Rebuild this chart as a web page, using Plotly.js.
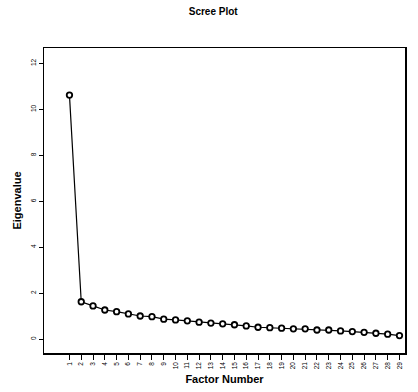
<!DOCTYPE html>
<html>
<head>
<meta charset="utf-8">
<script src="https://cdn.plot.ly/plotly-3.0.1.min.js"></script>
<style>
html,body{margin:0;padding:0;background:#fff;}
#chart{width:418px;height:392px;}
</style>
</head>
<body>
<div id="chart"></div>
<script>
var factorNumbers = [1,2,3,4,5,6,7,8,9,10,11,12,13,14,15,16,17,18,19,20,21,22,23,24,25,26,27,28,29];
var eigenvalues = [10.62,1.63,1.45,1.27,1.20,1.10,1.01,0.98,0.87,0.84,0.80,0.74,0.70,0.67,0.63,0.58,0.52,0.50,0.48,0.45,0.45,0.40,0.40,0.36,0.33,0.30,0.26,0.22,0.16];
var yTicks = [0,2,4,6,8,10,12];

var trace = {
  x: factorNumbers,
  y: eigenvalues,
  type: 'scatter',
  mode: 'lines+markers',
  line: {color: '#000', width: 1.2},
  marker: {symbol: 'circle', size: 5.5, color: '#fff', line: {color: '#000', width: 1.8}},
  hoverinfo: 'x+y'
};

var layout = {
  width: 418, height: 392,
  margin: {l: 44, r: 13, t: 48, b: 39},
  paper_bgcolor: '#fff', plot_bgcolor: '#fff',
  showlegend: false,
  title: {text: '<b>Scree Plot</b>', x: 0.51, xanchor: 'center', y: 0.97, yanchor: 'middle',
          font: {family: 'Arial, Liberation Sans, sans-serif', size: 10, color: '#000'}},
  xaxis: {
    range: [-1.16, 29.47],
    tickmode: 'array', tickvals: factorNumbers, ticktext: factorNumbers.map(String),
    tickangle: -90, ticks: 'outside', ticklen: 5, tickcolor: '#000', tickwidth: 1,
    tickfont: {family: 'Arial, Liberation Sans, sans-serif', size: 6.5, color: '#000'},
    showline: true, linecolor: '#000', linewidth: 1.5, mirror: true,
    showgrid: false, zeroline: false,
    title: {text: '<b>Factor Number</b>', standoff: 7,
            font: {family: 'Arial, Liberation Sans, sans-serif', size: 11, color: '#000'}}
  },
  yaxis: {
    range: [-0.6, 12.67],
    tickmode: 'array', tickvals: yTicks, ticktext: yTicks.map(String),
    tickangle: -90, ticks: 'outside', ticklen: 4, tickcolor: '#000', tickwidth: 1,
    tickfont: {family: 'Arial, Liberation Sans, sans-serif', size: 6.5, color: '#000'},
    showline: true, linecolor: '#000', linewidth: 1.5, mirror: true,
    showgrid: false, zeroline: false,
    title: {text: '<b>Eigenvalue</b>', standoff: 6,
            font: {family: 'Arial, Liberation Sans, sans-serif', size: 11, color: '#000'}}
  }
};

Plotly.newPlot('chart', [trace], layout, {displayModeBar: false, staticPlot: true});
</script>
</body>
</html>
